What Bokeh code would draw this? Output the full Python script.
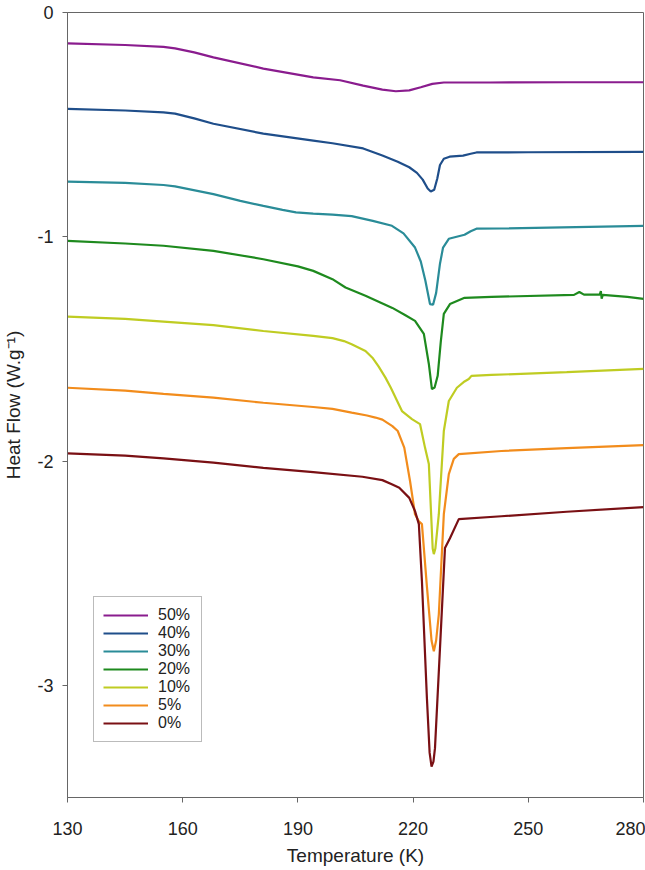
from bokeh.plotting import figure
from bokeh.models import Range1d, FixedTicker, Legend, LegendItem
from bokeh.embed import file_html
from bokeh.resources import INLINE

# ---- data ----
labels = ["50%", "40%", "30%", "20%", "10%", "5%", "0%"]
colors = ["#8A1C8E", "#1F4E8A", "#2A8C98", "#1E8A1E", "#BFCC22", "#F28C1C", "#7A1014"]

t50 = [130, 145, 155, 158, 163, 168, 181, 194, 201, 207, 212, 215.5, 219, 222, 225, 228, 240, 260, 280]
h50 = [-0.138, -0.145, -0.153, -0.160, -0.178, -0.200, -0.250, -0.289, -0.302, -0.326, -0.344, -0.351,
       -0.347, -0.333, -0.318, -0.312, -0.312, -0.311, -0.311]

t40 = [130, 145, 155, 158, 163, 168, 181, 194, 199, 207, 212, 216, 219, 221, 222.5, 223.8, 224.6, 225.5,
       226.3, 227, 228, 229.5, 233, 235, 236.5, 250, 280]
h40 = [-0.430, -0.437, -0.445, -0.451, -0.472, -0.496, -0.540, -0.571, -0.583, -0.606, -0.638, -0.665,
       -0.690, -0.715, -0.745, -0.785, -0.798, -0.790, -0.740, -0.680, -0.652, -0.643, -0.638, -0.630,
       -0.624, -0.623, -0.621]

t30 = [130, 145, 155, 158, 168, 175, 181, 186, 189.5, 194, 199, 204, 209.5, 214.5, 217.5, 220.5, 222,
       223.2, 224.4, 225.2, 226, 227, 227.8, 229.3, 233.4, 235, 236.5, 243, 280]
h30 = [-0.754, -0.760, -0.769, -0.775, -0.810, -0.840, -0.862, -0.880, -0.891, -0.897, -0.901, -0.908,
       -0.929, -0.951, -0.985, -1.048, -1.110, -1.196, -1.300, -1.303, -1.250, -1.120, -1.048, -1.009,
       -0.991, -0.975, -0.964, -0.963, -0.951]

t20 = [130, 145, 155, 168, 181, 190, 194, 199, 202.4, 207.6, 214.6, 218, 220.5, 222.8, 224.1, 224.9,
       225.6, 226.4, 227.2, 228, 229.6, 233.4, 240.4, 261.9, 263.3, 264.5, 268.6, 268.9, 269.1, 269.4,
       275.8, 280]
h20 = [-1.018, -1.030, -1.040, -1.0625, -1.100, -1.132, -1.152, -1.189, -1.226, -1.263, -1.317, -1.350,
       -1.375, -1.433, -1.567, -1.679, -1.672, -1.620, -1.470, -1.344, -1.300, -1.272, -1.268, -1.259,
       -1.246, -1.258, -1.258, -1.242, -1.276, -1.259, -1.268, -1.277]

t10 = [130, 145, 155, 168, 181, 194, 199, 202, 204, 207.6, 209.4, 211, 212.8, 214.2, 217.1, 219.7, 221.8,
       223.1, 224.1, 225.1, 225.4, 225.8, 226.7, 228, 229.3, 231.4, 233.4, 234.5, 235.2, 240.4, 260, 280]
h10 = [-1.356, -1.366, -1.378, -1.394, -1.420, -1.442, -1.452, -1.465, -1.479, -1.509, -1.539, -1.578,
       -1.628, -1.673, -1.777, -1.813, -1.835, -1.940, -2.013, -2.390, -2.415, -2.390, -2.237, -1.866,
       -1.732, -1.673, -1.645, -1.634, -1.620, -1.616, -1.603, -1.589]

t5 = [130, 145, 155, 168, 181, 194, 199, 204, 208, 210.2, 212, 214.6, 216, 217.7, 219.2, 220.5, 221.5,
      222.3, 223.6, 224.8, 225.4, 226, 226.7, 228, 229.3, 230.6, 231.9, 243, 260, 280]
h5 = [-1.673, -1.686, -1.700, -1.717, -1.740, -1.759, -1.767, -1.784, -1.797, -1.806, -1.815, -1.844,
      -1.866, -1.940, -2.089, -2.237, -2.268, -2.281, -2.560, -2.800, -2.848, -2.800, -2.683, -2.237,
      -2.058, -1.990, -1.969, -1.955, -1.942, -1.929]

t0 = [130, 145, 155, 168, 181, 194, 206.8, 212, 214.6, 216.4, 219, 220.5, 221.5, 222.3, 223.6, 224.3,
      224.8, 225.3, 225.7, 227, 228.3, 229.6, 231.9, 243, 260, 280]
h0 = [-1.966, -1.976, -1.988, -2.007, -2.030, -2.049, -2.070, -2.085, -2.104, -2.119, -2.164, -2.223,
      -2.281, -2.536, -3.058, -3.300, -3.362, -3.340, -3.280, -2.835, -2.388, -2.344, -2.259, -2.246,
      -2.226, -2.205]

series_t = [t50, t40, t30, t20, t10, t5, t0]
series_h = [h50, h40, h30, h20, h10, h5, h0]

x_ticks = [130, 160, 190, 220, 250, 280]
y_ticks = [-3, -2, -1, 0]

FONT = "Liberation Sans"

p = figure(width=645, height=870, output_backend="svg", toolbar_location=None,
           x_range=Range1d(130, 280), y_range=Range1d(-3.5, 0),
           min_border_left=63, min_border_right=2, min_border_top=12, min_border_bottom=73)

p.xgrid.visible = False
p.ygrid.visible = False
p.outline_line_color = "#666666"
p.outline_line_width = 1
p.background_fill_color = "white"
p.border_fill_color = "white"

for ax in (p.xaxis[0], p.yaxis[0]):
    ax.axis_line_color = "#666666"
    ax.major_tick_line_color = "#666666"
    ax.major_tick_out = 5
    ax.major_tick_in = 0
    ax.minor_tick_out = 0
    ax.minor_tick_in = 0
    ax.major_label_text_font = FONT
    ax.major_label_text_font_size = "18px"
    ax.major_label_text_color = "#222222"
    ax.axis_label_text_font = FONT
    ax.axis_label_text_font_size = "19px"
    ax.axis_label_text_font_style = "normal"
    ax.axis_label_text_color = "#222222"

p.xaxis.ticker = FixedTicker(ticks=x_ticks)
p.yaxis.ticker = FixedTicker(ticks=y_ticks)
p.xaxis.major_label_overrides = {t: str(t) for t in x_ticks}
p.yaxis.major_label_overrides = {t: str(t) for t in y_ticks}
p.xaxis.axis_label = "Temperature (K)"
p.yaxis.axis_label = "Heat Flow (W.g\u207b\u00b9)"
p.xaxis.major_label_standoff = 19
p.xaxis.axis_label_standoff = 7
p.yaxis.major_label_standoff = 9
p.yaxis.axis_label_standoff = 10

items = []
for lab, col, tt, hh in zip(labels, colors, series_t, series_h):
    r = p.line(tt, hh, line_color=col, line_width=2.2)
    items.append(LegendItem(label=lab, renderers=[r]))

legend = Legend(items=items, location=(26, 55))
legend.label_text_font = FONT
legend.label_text_font_size = "16px"
legend.label_text_color = "#222222"
legend.glyph_width = 45
legend.glyph_height = 18
legend.label_height = 18
legend.label_width = 34
legend.label_standoff = 10
legend.spacing = 0
legend.padding = 9
legend.margin = 0
legend.border_line_color = "#777777"
legend.border_line_width = 1
legend.background_fill_alpha = 1
p.add_layout(legend, "center")

open("out.html", "w").write(file_html(p, INLINE))
